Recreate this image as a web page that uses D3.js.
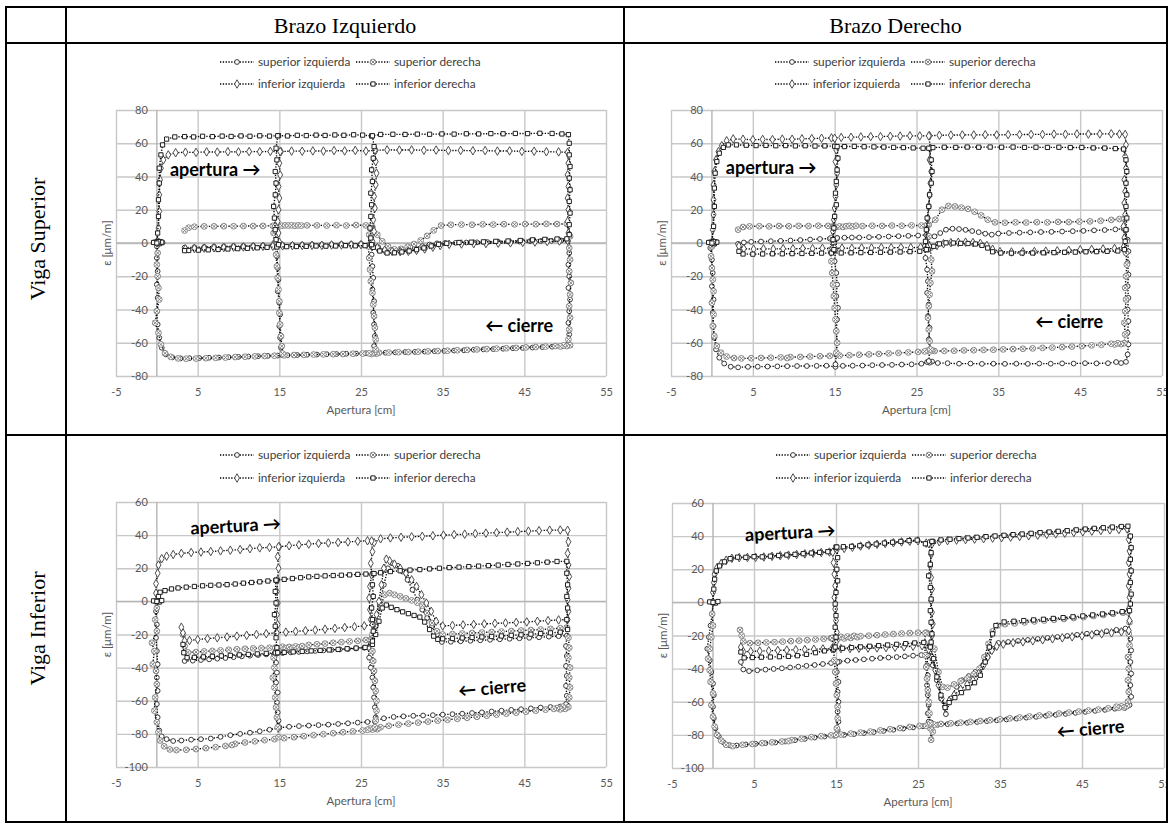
<!DOCTYPE html>
<html lang="es">
<head>
<meta charset="utf-8">
<title>Deformaciones en vigas</title>
<script src="https://cdn.jsdelivr.net/npm/d3@7/dist/d3.min.js"></script>
<style>
  body { margin: 0; background: #fff; }
  svg { display: block; }
  .cell-title { font-family: "Liberation Serif", "Times New Roman", serif; font-size: 22px; fill: #000; }
  .axis .tick text { font-family: Lato, "Open Sans", sans-serif; font-size: 11px; fill: #595959; }
  .axis-title { font-family: Lato, "Open Sans", sans-serif; font-size: 11.5px; fill: #595959; }
  .legend-text { font-family: Lato, "Open Sans", sans-serif; font-size: 11.8px; fill: #404040; }
  .note { font-family: Lato, "Open Sans", sans-serif; font-size: 18px; font-weight: bold; fill: #000; }
  .grid line { stroke: #c8c8c8; stroke-width: 1.4; }
  .grid path { display: none; }
  .zero-line { stroke: #b4b4b4; stroke-width: 1.4; }
  .series-line { fill: none; stroke: #000; stroke-width: 1.35; stroke-dasharray: 1.3 1.5; }
  .marker { fill: #fff; stroke-width: 0.95; }
  .rule { stroke: #000; stroke-width: 2; }
</style>
</head>
<body>
<svg id="figure" width="1171" height="824"></svg>
<script>
const X_TICKS = [-5, 5, 15, 25, 35, 45, 55];
const Y_TICKS_SUP = [-80, -60, -40, -20, 0, 20, 40, 60, 80];
const Y_TICKS_INF = [-100, -80, -60, -40, -20, 0, 20, 40, 60];
const SERIES_NAMES = ["superior izquierda", "superior derecha", "inferior izquierda", "inferior derecha"];
const COLUMN_TITLES = ["Brazo Izquierdo", "Brazo Derecho"];
const ROW_TITLES = ["Viga Superior", "Viga Inferior"];

// Brazo Izquierdo - Viga Superior
const izqSupSI = [[-0.3,0.5],[0.2,-0.5],[0.5,0.8],[0.1,1.5],[0.7,0.2],null,
  [3.4,-2.8],[4.6,-2.6],[5.8,-2.4],[7,-2.2],[8.2,-2.1],[9.4,-1.9],[10.6,-1.8],[11.8,-1.6],[13,-1.5],[14.2,-1.3],[15.4,-1.2],[16.6,-1.1],[17.8,-1],[19,-0.9],[20.2,-0.9],[21.4,-0.8],[22.6,-0.7],[23.8,-0.6],[25,-0.5],[26.1,-0.6],[27.1,-2.5],[28,-4.4],[28.9,-5],[29.8,-4.7],[30.7,-4],[31.6,-3],[32.5,-1.9],[33.4,-0.9],[34.3,-0.2],[35.3,0],[36.6,0.1],[37.9,0.3],[39.2,0.4],[40.5,0.5],[41.8,0.7],[43.1,0.8],[44.4,0.9],[45.7,1.1],[47,1.2],[48.3,1.3],[49.5,1.5],[50.3,1.2],
  [50.5,-6],[50.4,-13],[50.5,-20],[50.4,-27],[50.6,-34],[50.5,-41],[50.4,-48],[50.5,-55],[50.3,-61],
  [49.6,-62.2],[48.4,-62.4],[47.2,-62.6],[46,-62.9],[44.8,-63.1],[43.6,-63.3],[42.4,-63.6],[41.2,-63.8],[40,-64],[38.8,-64.2],[37.6,-64.5],[36.4,-64.7],[35.2,-64.9],[34,-65.1],[32.8,-65.3],[31.6,-65.5],[30.4,-65.6],[29.2,-65.8],[28,-66],[26.8,-66.3],[25.6,-66.3],[24.4,-66.5],[23.2,-66.6],[22,-66.8],[20.8,-66.9],[19.6,-67.1],[18.4,-67.2],[17.2,-67.4],[16,-67.5],[14.8,-67.7],[13.6,-67.9],[12.4,-68.1],[11.2,-68.3],[10,-68.5],[8.8,-68.7],[7.6,-68.9],[6.4,-69],[5.2,-69.2],[4,-69.3],[2.9,-69.4],[1.9,-68.8],[1.1,-67],[0.6,-63],[0.3,-57],[0.1,-49],[0,-41],[0.1,-33],[0,-25],[0.1,-17],[0,-9],[0,-2],null,
  [14.8,-1.3],[14.7,-8],[14.8,-15],[14.9,-22],[14.8,-29],[15,-36],[15.1,-43],[15,-50],[15.1,-57],[15.2,-63],[15.3,-67.3],null,
  [26.4,-0.6],[26.3,-7],[26.4,-14],[26.5,-21],[26.4,-28],[26.6,-35],[26.5,-42],[26.6,-49],[26.7,-56],[26.6,-62],[26.8,-66]];
const izqSupSD = [[3.4,7.5],[3.9,9.2],[4.6,9.8],[5.8,10],[7,10],[8.2,10.1],[9.4,10.1],[10.6,10.2],[11.8,10.2],[13,10.3],[14.2,10.3],[14.9,10.5],[15.3,10.4],[15.7,10.6],[16.1,10.5],[16.5,10.6],[16.9,10.4],[17.3,10.6],[17.7,10.5],[18.4,10.6],[19.6,10.6],[20.8,10.5],[22,10.7],[23.2,10.5],[24.4,10.8],[25.6,10.6],[26.4,9.5],[27,5],[27.6,1],[28.3,-2],[29.1,-3.8],[29.9,-3.5],[30.7,-2.3],[31.5,-0.6],[32.3,1.5],[33.1,4.3],[33.9,7.6],[34.8,10.5],[36,11],[37.3,11.1],[38.6,11],[39.9,11.2],[41.2,11.1],[42.5,11.3],[43.8,11.2],[45.1,11.4],[46.4,11.3],[47.7,11.5],[49,11.4],[50.2,11.5],
  [50.6,4],[50.5,-3],[50.6,-10],[50.5,-17],[50.7,-24],[50.6,-31],[50.5,-38],[50.6,-45],[50.5,-52],[50.4,-58],
  [50.6,-61.5],[50.2,-62],[49.8,-61.6],[49.4,-62.2],[48.8,-62],[47.6,-62.3],[46.4,-62.6],[45.2,-62.8],[44,-63.1],[42.8,-63.3],[41.6,-63.5],[40.4,-63.8],[39.2,-64],[38,-64.3],[36.8,-64.5],[35.6,-64.8],[34.4,-65],[33.2,-65.2],[32,-65.4],[30.8,-65.6],[29.6,-65.7],[28.4,-65.9],[27.2,-66],[26.9,-66.6],[26.6,-66.2],[26.3,-66.8],[26,-66.4],[25.2,-66.5],[24,-66.6],[22.8,-66.8],[21.6,-66.9],[20.4,-67],[19.2,-67.1],[18,-67.3],[16.8,-67.4],[15.6,-67.6],[14.4,-67.8],[13.2,-68],[12,-68.2],[10.8,-68.4],[9.6,-68.6],[8.4,-68.9],[7.2,-69.1],[6,-69.3],[4.8,-69.5],[3.6,-69.6],[2.6,-69.4],[1.7,-68.5],[1,-66.3],[0.5,-61],[0.2,-54],[-0.2,-48],[0,-41],[0.3,-34],[0.2,-27],[0.1,-20],[0,-13],[0.1,-6],[0,0],null,
  [14.5,10],[14.3,6],[14.4,0],[14.6,-7],[14.7,-14],[14.8,-21],[14.9,-28],[15,-35],[15,-42],[15.1,-49],[15.2,-56],[15.3,-62],[15.4,-66.5],null,
  [26.3,10],[26,5],[25.9,-2],[26,-9],[26.1,-16],[26.2,-23],[26.4,-30],[26.5,-37],[26.6,-44],[26.7,-51],[26.8,-58],[26.8,-64]];
const izqSupII = [[0,0],[0.2,9],[0.3,19],[0.3,29],[0.4,38],[0.5,45],[0.8,50],[1.4,53],[2.3,54.3],[3.5,54.6],[4.8,54.5],[6.1,54.8],[7.4,54.7],[8.7,54.9],[10,54.8],[11.3,55],[12.6,54.9],[13.9,55.1],[15.2,55],[16.5,55.3],[17.8,55.2],[19.1,55.4],[20.4,55.3],[21.7,55.6],[23,55.4],[24.3,55.7],[25.6,55.3],[26.8,55.8],[28.2,56],[29.7,55.9],[31.2,56],[32.7,55.8],[34.2,55.9],[35.7,55.6],[37.2,55.7],[38.7,55.5],[40.2,55.6],[41.7,55.3],[43.2,55.4],[44.7,55.1],[46.2,55.2],[47.7,54.9],[49.2,54.8],[50.3,54.5],
  [50.4,48],[50.3,41],[50.4,34],[50.3,27],[50.4,20],[50.3,13],[50.4,6],[50.3,1.5],
  [49.3,1.2],[47.8,0.9],[46.3,0.6],[44.8,0.4],[43.3,0.1],[41.8,-0.1],[40.3,-0.3],[38.8,-0.4],[37.3,-0.6],[35.8,-0.8],[34.7,-1.5],[33.8,-2.5],[32.8,-3.6],[31.8,-4.4],[30.8,-5],[29.8,-5.2],[28.8,-5],[27.9,-4.3],[27,-2.8],[26.2,-1.2],[25,-1],[23.8,-1.1],[22.6,-1.2],[21.4,-1.2],[20.2,-1.4],[19,-1.4],[17.8,-1.5],[16.6,-1.6],[15.4,-1.7],[14.2,-1.9],[13,-2],[11.8,-2.2],[10.6,-2.4],[9.4,-2.5],[8.2,-2.7],[7,-2.9],[5.8,-3.1],[4.6,-3.3],[3.5,-3.5],null,
  [15.1,55],[15,48],[15.1,41],[14.9,34],[15,27],[14.9,20],[14.8,13],[14.9,6],[15,0.5],null,
  [26.7,55.8],[26.8,49],[26.9,42],[26.8,35],[26.6,28],[26.7,21],[26.5,14],[26.6,7],[26.4,1]];
const izqSupID = [[-0.4,0.3],[0.3,-0.4],[0.6,0.5],[0.2,0.8],[0,0],[0.1,6],[0.2,16],[0.2,26],[0.3,36],[0.3,45],[0.5,53],[0.7,59],[1.2,62.5],[2.2,63.8],[3.4,64],[4.5,63.8],[5.6,64.2],[6.8,64],[8,64.3],[9.1,64.1],[10.3,64.4],[11.4,64.2],[12.6,64.5],[13.8,64.3],[14.9,64.6],[16,64.4],[17.2,64.8],[18.3,64.6],[19.5,64.9],[20.6,64.7],[21.8,65],[22.9,64.8],[24.1,65.1],[25.2,64.9],[26.3,64.4],[27.4,65.3],[28.9,65.4],[30.4,65.3],[31.9,65.5],[33.4,65.4],[34.9,65.6],[36.4,65.5],[37.9,65.7],[39.4,65.6],[40.9,65.8],[42.4,65.7],[43.9,65.9],[45.4,65.8],[46.9,66],[48.4,65.9],[49.6,65.6],[50.4,65.2],
  [50.5,60],[50.5,53],[50.6,46],[50.5,39],[50.6,32],[50.5,25],[50.6,18],[50.5,11],[50.5,5],
  [50.2,2.5],[49,2.4],[47.5,2.2],[46,1.9],[44.5,1.5],[43,1.2],[41.5,1],[40,0.7],[38.5,0.5],[37,0.3],[35.5,-0.2],[34.5,-0.8],[33.6,-1.8],[32.7,-3],[31.8,-4],[30.9,-4.8],[30,-5.4],[29.1,-5.9],[28.2,-6],[27.3,-4.8],[26.5,-2.6],[25.5,-1.6],[24.3,-1.7],[23.1,-1.6],[21.9,-1.8],[20.7,-1.9],[19.5,-1.8],[18.3,-2],[17.1,-2.1],[15.9,-2.2],[14.7,-2.4],[13.5,-2.6],[12.3,-2.9],[11.1,-3.2],[9.9,-3.4],[8.7,-3.6],[7.5,-3.9],[6.3,-4.1],[5.1,-4.3],[3.9,-4.5],[3.4,-4.6],null,
  [14.8,64.5],[14.6,57],[14.7,50],[14.5,43],[14.6,36],[14.5,29],[14.3,22],[14.4,15],[14.5,8],[14.6,2],[14.9,-1],null,
  [26.4,64.5],[26.6,58],[26.5,51],[26.3,44],[26.4,37],[26.2,30],[26.3,23],[26.2,16],[26.1,9],[26.2,3],[26.3,-1]];

// Brazo Derecho - Viga Superior
const derSupSI = [[-0.3,0.4],[0.3,-0.6],[0.5,0.7],[0.1,1.4],null,
  [3.2,-0.5],[3.9,0.3],[4.8,0.7],[6,0.9],[7.2,1.1],[8.4,1.3],[9.6,1.5],[10.8,1.8],[12,2.1],[13.2,2.4],[14.4,2.7],[15.3,3],[16.2,3.2],[17.1,3.3],[18,3.3],[19.2,3.5],[20.4,3.7],[21.6,3.9],[22.8,4.1],[24,4.3],[25.2,4.5],[26.3,5],[27.2,4],[27.9,6],[28.6,8],[29.4,8.6],[30.2,8.4],[31,7.9],[31.8,7.2],[32.6,6.5],[33.4,5.6],[34.2,5],[35,5.7],[36.3,6],[37.6,6.2],[38.9,6.4],[40.2,6.6],[41.5,6.7],[42.8,6.9],[44.1,7.1],[45.4,7.3],[46.7,7.6],[48,7.8],[49.3,8.2],[50.3,8.6],
  [50.8,2],[50.9,-5],[50.8,-12],[50.9,-19],[50.8,-26],[50.9,-33],[50.8,-40],[50.9,-47],[50.8,-54],[50.9,-61],[50.8,-67],[50.6,-71.5],
  [50,-72.2],[49.4,-71.6],[48.4,-72.3],[47,-72.4],[45.6,-72.3],[44.2,-72.5],[42.8,-72.4],[41.4,-72.6],[40,-72.5],[38.6,-72.7],[37.2,-72.6],[35.8,-72.7],[34.4,-72.6],[33,-72.7],[31.6,-72.5],[30.2,-72.6],[28.8,-72.3],[27.6,-72.2],[26.9,-71.3],[26.6,-72],[26.3,-71.6],[25.6,-72.6],[24.4,-73],[23.2,-73.1],[22,-73.3],[20.8,-73.4],[19.6,-73.5],[18.4,-73.7],[17.2,-73.8],[16,-73.9],[15.1,-74.5],[14,-73.8],[12.8,-73.9],[11.6,-74],[10.4,-74],[9.2,-74.1],[8,-74.2],[6.8,-74.3],[5.6,-74.4],[4.4,-74.5],[3.2,-74.8],[2.3,-74.4],[1.5,-72.5],[0.9,-69],[0.5,-64],[0.3,-57],[0.2,-50],[0.1,-42],[0.2,-34],[0,-26],[0.1,-18],[0,-10],[-0.2,-3],[0,0],null,
  [15.3,3],[15.1,-4],[15,-11],[15.2,-18],[15.3,-25],[15.2,-32],[15.4,-39],[15.3,-46],[15.2,-53],[15.3,-60],[15.2,-67],[15.1,-73],null,
  [26.2,4.8],[26,-2],[26.1,-9],[26.3,-16],[26.4,-23],[26.3,-30],[26.5,-37],[26.4,-44],[26.6,-51],[26.5,-58],[26.6,-65],[26.5,-71]];
const derSupSD = [[3.2,8],[3.8,9.6],[4.6,10],[5.8,10.1],[7,10],[8.2,10.2],[9.4,10.1],[10.6,10.3],[11.8,10.2],[13,10.4],[14.2,10.3],[14.8,10],[15.2,9.6],[15.6,10],[16,9.7],[16.4,10.1],[16.8,10.3],[17.2,9.9],[17.6,10.4],[18.4,10.2],[19.6,10.4],[20.8,10.3],[22,10.5],[23.2,10.4],[24.4,10.6],[25.6,10.5],[26.5,11],[27.3,14],[28.1,20],[28.9,22.3],[29.7,22],[30.5,21.3],[31.3,20.5],[32.1,18.8],[32.9,16.6],[33.7,14],[34.6,12.4],[35.8,12.2],[37.1,12.4],[38.4,12.3],[39.7,12.5],[41,12.4],[42.3,12.7],[43.6,12.6],[44.9,12.9],[46.2,13],[47.5,13.4],[48.8,13.9],[49.8,14.4],[50.4,14.6],
  [50.6,8],[50.7,1],[50.6,-6],[50.7,-13],[50.6,-20],[50.5,-27],[50.6,-34],[50.5,-41],[50.4,-48],[50.5,-55],
  [50.4,-60.2],[50,-60.8],[49.6,-60.3],[49.2,-61],[48.8,-60.6],[47.6,-61.2],[46.4,-61.6],[45.2,-62],[44,-62.3],[42.8,-62.6],[41.6,-62.9],[40.4,-63.1],[39.2,-63.4],[38,-63.6],[36.8,-63.8],[35.6,-64],[34.4,-64.2],[33.2,-64.3],[32,-64.5],[30.8,-64.6],[29.6,-64.8],[28.4,-64.9],[27.2,-65],[26.9,-64.6],[26.6,-65.3],[26.3,-64.8],[26,-65.2],[25.2,-65.5],[24,-65.8],[22.8,-66.1],[21.6,-66.4],[20.4,-66.7],[19.2,-67],[18,-67.2],[16.8,-67.5],[15.6,-67.7],[14.4,-67.9],[13.2,-68.1],[12,-68.3],[10.8,-68.5],[9.6,-68.6],[9.2,-69.2],[8.4,-68.8],[7.2,-69],[6,-69.1],[4.8,-69.3],[3.6,-69.4],[2.7,-69.2],[1.8,-68.3],[1.1,-66],[0.6,-62],[0.3,-56],[0.1,-50],[0.2,-43],[0,-36],[0.2,-29],[0.1,-22],[0,-15],[-0.1,-8],[0,-2],null,
  [14.8,9.5],[14.6,3],[14.5,-4],[14.6,-11],[14.7,-18],[14.8,-25],[14.9,-32],[15,-39],[15.1,-46],[15.2,-53],[15.3,-60],[15.2,-66],null,
  [26.3,11],[26.5,4],[26.7,-3],[26.8,-10],[26.9,-17],[26.7,-24],[26.6,-31],[26.5,-38],[26.4,-45],[26.5,-52],[26.6,-59],[26.7,-64]];
const derSupII = [[0,0],[0.1,8],[0.2,17],[0.2,26],[0.2,35],[0.3,43],[0.5,50],[0.8,55],[1.2,58.5],[1.8,61.5],[2.6,62.6],[3.8,62.4],[5,62.1],[6.2,62.3],[7.4,62.2],[8.6,62.5],[9.8,62.4],[11,62.7],[12.2,62.8],[13.4,63],[14.6,63.2],[15.8,63.5],[17,63.6],[18.2,63.8],[19.4,64],[20.6,64],[21.8,64.2],[23,64.3],[24.2,64.5],[25.4,64.4],[26.6,64.5],[27.8,64.8],[29.2,64.9],[30.6,65],[32,65],[33.4,65.1],[34.8,65],[36.2,65.2],[37.6,65.2],[39,65.3],[40.4,65.3],[41.8,65.5],[43.2,65.4],[44.6,65.6],[46,65.5],[47.4,65.6],[48.8,65.7],[49.8,65.5],[50.5,65.3],
  [50.6,59],[50.5,52],[50.6,45],[50.4,38],[50.5,31],[50.4,24],[50.5,17],[50.3,10],[50.4,3],[50.3,-2.5],
  [49.2,-3.3],[47.8,-3.6],[46.4,-3.9],[45,-4.1],[43.6,-4.4],[42.2,-4.7],[40.8,-4.9],[39.4,-5.1],[38,-5.3],[36.6,-5.4],[35.2,-5.2],[34.3,-3.8],[33.6,-1.5],[32.8,-0.2],[31.9,0.3],[31,0.5],[30.1,0.4],[29.2,0.2],[28.3,-0.4],[27.5,-1.5],[26.6,-2.2],[25.5,-2.6],[24.3,-2.8],[23.1,-2.7],[21.9,-2.9],[20.7,-2.8],[19.5,-3],[18.3,-3],[17.1,-3.2],[15.9,-3.1],[14.7,-3.3],[13.5,-3.2],[12.3,-3.4],[11.1,-3.3],[9.9,-3.5],[8.7,-3.4],[7.5,-3.6],[6.3,-3.5],[5.1,-3.7],[3.9,-3.4],[3.3,-1.8],null,
  [15,63],[15.2,56],[15.1,49],[15.3,42],[15.2,35],[15.1,28],[15,21],[14.9,14],[14.8,7],[14.9,0],[15,-3],null,
  [26.5,64.4],[26.7,57],[26.6,50],[26.8,43],[26.7,36],[26.6,29],[26.5,22],[26.4,15],[26.3,8],[26.2,1],[26.3,-2.5]];
const derSupID = [[-0.4,0.3],[0.3,-0.4],[0.6,0.5],[0.2,0.8],[0,0],[0.2,10],[0.3,22],[0.3,33],[0.4,42],[0.6,49],[0.9,54],[1.4,57.5],[2,59],[3,59],[4.2,58.8],[5.4,58.6],[6.6,58.7],[7.8,58.5],[9,58.6],[10.2,58.4],[11.4,58.5],[12.6,58.3],[13.8,58.4],[15,58.2],[16.2,58],[17.4,58.1],[18.6,57.9],[19.8,57.8],[21,57.7],[22.2,57.5],[23.4,57.4],[24.6,57.2],[25.8,57],[27,57.4],[28.4,57.6],[29.8,57.5],[31.2,57.7],[32.6,57.6],[34,57.7],[35.4,57.6],[36.8,57.7],[38.2,57.5],[39.6,57.6],[41,57.5],[42.4,57.6],[43.8,57.4],[45.2,57.5],[46.6,57.2],[48,57.1],[49.3,56.8],[50.3,56.5],
  [50.6,50],[50.7,43],[50.6,36],[50.7,29],[50.6,22],[50.7,15],[50.6,8],[50.5,1],[50.4,-4],
  [49.6,-4.8],[48.3,-5],[47,-5.2],[45.7,-5.3],[44.4,-5.5],[43.1,-5.6],[41.8,-5.8],[40.5,-5.9],[39.2,-6],[37.9,-6],[36.6,-6.1],[35.3,-6],[34.3,-5.3],[33.7,-3],[33,-1.4],[32.2,-0.6],[31.3,-0.3],[30.4,-0.2],[29.5,0],[28.6,0.1],[27.8,-0.5],[27.1,-2],[26.4,-4],[25.4,-5],[24.2,-5.2],[23,-5.4],[21.8,-5.5],[20.6,-5.6],[19.4,-5.7],[18.2,-5.8],[17,-5.9],[15.8,-6],[14.6,-6],[13.4,-6.1],[12.2,-6.2],[11,-6.3],[9.8,-6.4],[8.6,-6.5],[7.4,-6.5],[6.2,-6.6],[5,-6.7],[3.8,-6.6],[3.3,-5],null,
  [15.3,58],[15.4,51],[15.3,44],[15.2,37],[15.1,30],[15.2,23],[15,16],[14.9,9],[14.8,2],[14.9,-4],null,
  [26.5,57],[26.8,50],[26.9,43],[26.8,36],[26.6,29],[26.5,22],[26.3,15],[26.2,8],[26.1,1],[26.2,-4]];

// Brazo Izquierdo - Viga Inferior
const izqInfSI = [[3.4,-36],[4.4,-35.8],[5.4,-35.4],[6.4,-35],[7.4,-34.6],[8.4,-34.2],[9.4,-33.7],[10.4,-33.2],[11.4,-32.8],[12.4,-32.4],[13.4,-32],[14.4,-31.6],[15.4,-31.2],[16.4,-30.8],[17.4,-30.5],[18.4,-30.2],[19.4,-29.9],[20.4,-29.6],[21.4,-29.3],[22.4,-29],[23.4,-28.7],[24.4,-28.4],[25.4,-28],[26.2,-25],[26.8,-15],[27.3,-2],[27.8,10],[28.3,20],[28.9,23],[29.5,21.5],[30.1,18],[30.7,13],[31.3,7],[31.9,1],[32.5,-5],[33.1,-10],[33.7,-15],[34.3,-20],[34.9,-24.5],[36,-24.4],[37.2,-24.1],[38.4,-23.8],[39.6,-23.5],[40.8,-23.2],[42,-22.9],[43.2,-22.6],[44.4,-22.3],[45.6,-22],[46.8,-21.7],[48,-21.3],[49.2,-21],[50.2,-20.7],
  [50.1,-27],[50.2,-33],[50.1,-39],[50.2,-45],[50.1,-51],[50.2,-57],[50.1,-62],
  [49.4,-63.5],[48.2,-63.8],[47,-64.1],[45.8,-64.6],[44.6,-65.1],[43.4,-65.5],[42.2,-66],[41,-66.5],[39.8,-67],[38.6,-67.4],[37.4,-67.8],[36.2,-68.1],[35,-68.4],[33.8,-68.7],[32.6,-68.9],[31.4,-69.1],[30.2,-69.4],[29,-69.8],[27.8,-70.6],[26.8,-72],[25.8,-72.8],[24.6,-73.2],[23.4,-73.6],[22.2,-74],[21,-74.4],[19.8,-74.7],[18.6,-75],[17.4,-75.3],[16.2,-75.7],[15,-76.3],[13.8,-77.5],[12.6,-78.4],[11.4,-79.3],[10.2,-80],[9,-80.8],[7.8,-81.8],[6.6,-82.8],[5.4,-83.2],[4.2,-83.5],[3,-84],[2,-84.3],[1.2,-83.2],[0.6,-81.5],[0.3,-78],[0.1,-70],[0,-62],[0.1,-54],[0,-46],[0.1,-38],[0,-30],[-0.1,-22],[0,-14],[-0.1,-6],[0,0],null,
  [14.7,-31.5],[14.6,-37],[14.7,-43],[14.6,-49],[14.8,-55],[14.7,-61],[14.8,-67],[14.9,-72],[15,-76],null,
  [25.9,-28],[26,-34],[26.2,-40],[26.4,-46],[26.5,-52],[26.6,-58],[26.7,-64],[26.8,-70],[26.7,-72.5]];
const izqInfSD = [[3.2,-20],[3.4,-27],[3.8,-30.8],[4.8,-30.6],[5.8,-30.2],[6.8,-29.9],[7.8,-29.6],[8.8,-29.2],[9.8,-28.9],[10.8,-28.6],[11.8,-28.4],[12.8,-28.2],[13.8,-28],[14.6,-27.9],[15,-28.6],[15.4,-27.4],[15.8,-28.3],[16.2,-27.5],[16.6,-28.1],[17,-27.2],[17.4,-27.8],[17.8,-27],[18.6,-26.3],[19.6,-25.9],[20.6,-25.5],[21.6,-25],[22.6,-24.6],[23.6,-24.2],[24.6,-23.8],[25.6,-23.3],[26.4,-20],[26.9,-12],[27.4,-3],[27.9,4],[28.5,5],[29.1,4],[29.8,3],[30.5,1.8],[31.2,0.6],[31.9,-0.8],[32.5,-2.5],[33.1,-7],[33.7,-13],[34.3,-18],[35,-20],[36.2,-19.7],[37.4,-19.4],[38.6,-19.1],[39.8,-18.8],[41,-18.5],[42.2,-18.2],[43.4,-17.9],[44.6,-17.6],[45.8,-17.3],[47,-17],[48.2,-16.6],[49.4,-16.2],[50.2,-15.8],
  [50.4,-22],[50.5,-28],[50.4,-34],[50.6,-40],[50.5,-46],[50.6,-52],[50.5,-58],
  [50.4,-63.8],[50,-64.9],[49.7,-63.6],[49.4,-65.2],[49,-64.4],[48.6,-64.9],[47.6,-65.4],[46.4,-66],[45.2,-66.6],[44,-67.2],[42.8,-67.8],[41.6,-68.4],[40.4,-69],[39.2,-69.7],[38,-70.3],[36.8,-70.9],[35.6,-71.5],[34.4,-72],[33.2,-72.6],[32,-73.2],[30.8,-73.8],[29.6,-74.4],[28.4,-75.1],[27.4,-76],[27,-77.2],[26.7,-76.6],[26.4,-77.4],[26.1,-76.8],[25.8,-77.5],[25.2,-78],[24,-78.5],[22.8,-79],[21.6,-79.6],[20.4,-80.2],[19.2,-80.8],[18,-81.4],[16.8,-82],[15.6,-82.6],[14.4,-83.2],[13.2,-83.8],[12,-84.5],[10.8,-85.2],[9.6,-86],[9.2,-86.8],[8.4,-87.3],[7.2,-88],[6,-88.6],[4.8,-89.2],[3.6,-89.6],[2.4,-89.8],[1.6,-89.4],[0.9,-87.5],[0.4,-84],[0.2,-79],[0,-73],[-0.3,-66],[-0.2,-58],[0,-50],[-0.1,-42],[-0.5,-38],[-0.3,-30],[-0.6,-25],[0,-18],[-0.2,-11],[0,-4],[-0.1,0],null,
  [14.5,-28],[14.3,-34],[14.4,-40],[14.2,-46],[14.4,-52],[14.5,-58],[14.6,-64],[14.7,-70],[14.8,-76],[14.9,-82],null,
  [26.2,-23.5],[26.4,-30],[26.5,-36],[26.6,-42],[26.7,-48],[26.8,-54],[26.9,-60],[26.9,-66],[26.8,-72],[26.7,-76]];
const izqInfII = [[0,0],[-0.1,5],[-0.1,10.7],[0.1,17],[0.2,22],[0.6,25.8],[1.2,27.3],[2,28.3],[3,29],[4.2,29.5],[5.4,29.8],[6.6,30.1],[7.8,30.5],[9,30.9],[10.2,31.3],[11.4,31.8],[12.6,32.3],[13.8,32.6],[15,33],[16.2,33.6],[17.4,34.1],[18.6,34.6],[19.8,35],[21,35.3],[22.2,35.6],[23.4,35.9],[24.6,36.3],[25.8,36.6],[26.6,35.5],[27.4,37.8],[28.6,38.3],[29.9,38.7],[31.2,39],[32.5,39.3],[33.8,39.6],[35.1,40],[36.4,40.3],[37.7,40.6],[39,40.9],[40.3,41.2],[41.6,41.5],[42.9,41.8],[44.2,42.1],[45.5,42.4],[46.8,42.7],[48.1,43],[49.4,43.1],[50.3,42.9],
  [50.4,36],[50.3,29],[50.4,22],[50.5,15],[50.4,8],[50.3,1],[50.4,-6],[50.3,-11],
  [49.2,-11.2],[47.9,-11.6],[46.6,-12],[45.3,-12.4],[44,-12.7],[42.7,-13],[41.4,-13.3],[40.1,-13.6],[38.8,-13.9],[37.5,-14.2],[36.2,-14.5],[35,-14.8],[34.2,-12],[33.6,-6],[33,-1],[32.4,4],[31.8,9],[31.2,13],[30.5,17],[29.8,20],[29.1,22.5],[28.5,24.5],[28.1,25.5],[27.8,20],[27.5,10],[27.2,0],[26.9,-8],[26.5,-14],[25.4,-14.8],[24.2,-15.3],[23,-15.8],[21.8,-16.3],[20.6,-16.8],[19.4,-17.3],[18.2,-17.7],[17,-18.1],[15.8,-18.6],[14.6,-19],[13.4,-19.5],[12.2,-20],[11,-20.5],[9.8,-21],[8.6,-21.5],[7.4,-22],[6.2,-22.5],[5,-23],[4,-23.6],[3.4,-23.8],[3.2,-19],[3,-15.6],null,
  [14.9,33],[14.8,27],[14.9,20],[14.8,13],[14.7,6],[14.8,-1],[14.7,-8],[14.8,-14],[14.7,-19],null,
  [26.3,36.5],[26.4,30],[26.2,23],[26.3,16],[26.1,9],[26,2],[26.1,-5],[26.2,-11],[26.4,-14]];
const izqInfID = [[-0.4,0.3],[0.3,-0.4],[0.6,0.5],[0,0],[0.2,3],[0.4,5.5],[1,6.5],[1.8,7.5],[2.6,8.1],[3.6,8.6],[4.6,9],[5.6,9.4],[6.6,9.7],[7.6,9.9],[8.6,10.1],[9.6,10.5],[10.6,11],[11.6,11.4],[12.6,11.8],[13.6,12.3],[14.6,12.8],[15.6,13.3],[16.6,13.8],[17.6,14.3],[18.6,14.8],[19.6,15.1],[20.6,15.4],[21.6,15.6],[22.6,15.8],[23.6,16],[24.6,16.3],[25.6,16.5],[26.5,16.8],[27.4,17.3],[28.6,18],[29.8,18.5],[31,18.9],[32.2,19.2],[33.4,19.6],[34.6,20],[35.8,20.4],[37,20.7],[38.2,21],[39.4,21.3],[40.6,21.6],[41.8,21.9],[43,22.3],[44.2,22.6],[45.4,22.9],[46.6,23.3],[47.8,23.7],[49,24.1],[50.2,24.2],
  [50.2,17],[50.3,10],[50.2,3],[50.3,-4],[50.2,-11],[50.3,-17],
  [49.4,-18.6],[48.2,-19],[47,-19.4],[45.8,-19.8],[44.6,-20.2],[43.4,-20.5],[42.2,-20.9],[41,-21.2],[39.8,-21.5],[38.6,-21.8],[37.4,-22.1],[36.2,-22.4],[35,-22.6],[34.4,-22.9],[33.9,-21],[33.4,-17],[32.8,-12.5],[32.2,-9.5],[31.5,-8.5],[30.8,-7.4],[30.1,-6.3],[29.4,-5],[28.7,-3.6],[28.1,-2.2],[27.6,-4],[27.2,-12],[26.8,-20],[26.4,-26],[25.5,-27.8],[24.4,-28.2],[23.3,-28.6],[22.2,-29],[21.1,-29.3],[20,-29.6],[18.9,-29.9],[17.8,-30.2],[16.7,-30.5],[15.6,-30.8],[14.5,-31.1],[13.4,-31.4],[12.3,-31.7],[11.2,-32],[10.1,-32.3],[9,-32.6],[7.9,-32.9],[6.8,-33.2],[5.7,-33.5],[4.6,-33.8],[3.7,-34],[3.3,-31],[3.2,-26],null,
  [14.6,12.8],[14.5,6],[14.6,-1],[14.4,-8],[14.5,-15],[14.6,-22],[14.7,-28],[14.8,-31],null,
  [26.6,16.8],[26.4,10],[26.5,3],[26.3,-4],[26.4,-11],[26.5,-18],[26.4,-24]];

// Brazo Derecho - Viga Inferior
const derInfSI = [[3.4,-36],[3.7,-40.5],[4.4,-41.5],[5.4,-41],[6.4,-40.6],[7.4,-40.2],[8.4,-39.8],[9.4,-39.3],[10.4,-38.8],[11.4,-38.3],[12.4,-37.8],[13.4,-37.2],[14.4,-36.6],[15.4,-35.8],[16.4,-35.2],[17.4,-34.8],[18.4,-34.4],[19.4,-34],[20.4,-33.6],[21.4,-33.3],[22.4,-33],[23.4,-32.6],[24.4,-32.2],[25.4,-31.8],[26.2,-31.5],[26.8,-38],[27.3,-47],[27.8,-58],[28.4,-67.5],[29,-58],[29.7,-51],[30.4,-47],[31.2,-44.5],[32,-42],[32.8,-38.5],[33.5,-33],[34.1,-28],[34.8,-24.5],[36,-23.9],[37.2,-23.3],[38.4,-22.7],[39.6,-22.1],[40.8,-21.5],[42,-20.9],[43.2,-20.3],[44.4,-19.6],[45.6,-18.9],[46.8,-18.2],[48,-17.4],[49.2,-16.6],[50.3,-15.8],
  [50.9,-22],[51,-29],[50.9,-36],[51,-43],[50.9,-50],[51,-57],[50.8,-62],
  [50.2,-63.8],[49,-64.2],[47.8,-64.9],[46.6,-65.5],[45.4,-66.1],[44.2,-66.7],[43,-67.3],[41.8,-67.9],[40.6,-68.5],[39.4,-69.1],[38.2,-69.6],[37,-70.2],[35.8,-70.7],[34.6,-71.2],[33.4,-71.7],[32.2,-72.2],[31,-72.7],[29.8,-73.1],[28.6,-73.5],[27.4,-73.9],[26.6,-72.5],[25.6,-74.8],[24.4,-75.5],[23.2,-76.2],[22,-76.9],[20.8,-77.6],[19.6,-78.3],[18.4,-78.9],[17.2,-79.5],[16,-80],[14.8,-80.5],[13.6,-81],[12.4,-81.6],[11.2,-82.4],[10,-83.2],[8.8,-84],[7.6,-84.6],[6.4,-85],[5.2,-85.4],[4,-85.8],[2.9,-86.4],[2,-86.2],[1.3,-84.6],[0.7,-81],[0.3,-76],[0.1,-70],[0,-63],[0.1,-56],[0,-49],[-0.2,-42],[-0.4,-35],[-0.7,-28],[-0.5,-21],[-0.3,-14],[-0.1,-7],[0,0],null,
  [15.2,-36],[15.1,-42],[15.3,-48],[15.2,-54],[15.3,-60],[15.2,-66],[15.3,-72],[15.2,-77],[15.1,-80],null,
  [26.2,-32],[26.1,-38],[26.2,-44],[26.1,-50],[26.2,-56],[26.3,-62],[26.2,-67],[26.3,-72]];
const derInfSD = [[3.3,-16.6],[3.5,-20],[3.7,-23.6],[4.5,-24.6],[5.5,-24.4],[6.5,-24.2],[7.5,-24],[8.5,-23.7],[9.5,-23.4],[10.5,-23.1],[11.5,-22.8],[12.5,-22.4],[13.5,-22],[14.4,-21.6],[14.8,-21],[15.2,-22],[15.6,-20.8],[16,-21.8],[16.4,-20.6],[16.8,-21.5],[17.2,-20.2],[17.6,-21],[18,-20.4],[19,-20.1],[20,-19.8],[21,-19.4],[22,-19.1],[23,-18.8],[24,-18.5],[25,-18.3],[26,-18.2],[26.5,-19],[27,-28],[27.5,-42],[28,-51],[28.6,-51.5],[29.4,-49.5],[30.2,-47.5],[31,-46],[31.8,-43.5],[32.5,-40],[33.1,-33],[33.6,-25],[34.1,-17.5],[34.7,-14],[35.6,-13.2],[36.8,-12.7],[38,-12.1],[39.2,-11.5],[40.4,-11],[41.6,-10.5],[42.8,-10],[44,-9.4],[45.2,-8.9],[46.4,-8.3],[47.6,-7.6],[48.8,-6.9],[50,-6.2],[50.6,-6],
  [50.8,-12],[50.7,-19],[50.8,-26],[50.6,-33],[50.7,-40],[50.6,-47],[50.7,-54],[50.6,-60],
  [50.5,-62.6],[50.1,-63.4],[49.8,-62.8],[49.5,-63.6],[49.2,-63],[48.2,-64],[47,-64.7],[45.8,-65.3],[44.6,-65.9],[43.4,-66.5],[42.2,-67.1],[41,-67.7],[39.8,-68.3],[38.6,-68.9],[37.4,-69.5],[36.2,-70],[35,-70.6],[33.8,-71.1],[32.6,-71.6],[31.4,-72.1],[30.2,-72.6],[29,-73],[27.8,-73.4],[27,-73.8],[26.8,-78],[26.6,-83],[26.5,-76],[26.3,-74],[26,-74.5],[25.2,-74.6],[24,-75.2],[22.8,-75.9],[21.6,-76.6],[20.4,-77.3],[19.2,-78],[18,-78.6],[16.8,-79.2],[15.6,-79.8],[14.4,-80.3],[13.2,-80.8],[12,-81.4],[10.8,-82.3],[9.6,-83.2],[9.2,-83.8],[8.4,-84],[7.2,-84.5],[6,-85],[4.8,-85.5],[3.6,-86],[2.4,-86.8],[1.6,-86],[1,-83.5],[0.5,-80],[0.2,-75],[0,-69],[-0.2,-62],[0,-55],[-0.3,-48],[-0.4,-41],[-0.6,-34],[-0.4,-28],[-0.2,-21],[0,-14],[-0.1,-7],[0,0],null,
  [14.5,-21.5],[14.7,-28],[14.8,-35],[14.9,-42],[15,-49],[15.1,-56],[15.2,-63],[15.2,-70],[15.1,-76],[15,-80],null,
  [25.9,-18.5],[25.8,-25],[25.9,-32],[26,-39],[26.1,-46],[26.2,-53],[26.3,-60],[26.4,-67],[26.5,-73]];
const derInfII = [[0,0],[0,6],[0.1,12],[0.2,17],[0.5,21],[1,23.5],[1.6,25.4],[2.3,26.6],[3.2,27],[4.2,27.1],[5.2,27.2],[6.2,27.4],[7.2,27.8],[8.2,28.2],[9.2,28.5],[10.2,28.9],[11.2,29.3],[12.2,29.7],[13.2,30.1],[14.2,30.4],[15.1,31.8],[16,32.6],[17,33.3],[18,34],[19,34.6],[20,35.1],[21,35.6],[22,36],[23,36.5],[24,36.9],[25,37.2],[26,35.8],[26.7,35.2],[27.6,36.6],[28.6,37.3],[29.7,37.6],[30.8,37.9],[31.9,38.2],[33,38.5],[34.1,38.8],[35.2,39.1],[36.3,39.4],[37.4,39.8],[38.5,40.2],[39.6,40.6],[40.7,41],[41.8,41.4],[42.9,41.8],[44,42.2],[45.1,42.6],[46.2,43],[47.3,43.4],[48.4,43.8],[49.5,44],[50.5,44.4],
  [50.7,38],[50.8,31],[50.7,24],[50.8,17],[50.7,10],[50.8,3],[50.7,-4],[50.8,-11],[50.7,-17],
  [49.8,-17.8],[48.6,-18.4],[47.4,-19],[46.2,-19.6],[45,-20.2],[43.8,-20.8],[42.6,-21.4],[41.4,-22],[40.2,-22.6],[39,-23.2],[37.8,-23.8],[36.6,-24.4],[35.4,-25.2],[34.6,-26.5],[34,-29],[33.5,-33],[33,-38],[32.4,-43],[31.7,-47],[31,-49.5],[30.2,-52.5],[29.4,-56],[28.8,-59.5],[28.3,-63],[27.9,-58],[27.5,-50],[27.1,-41],[26.7,-33],[26.3,-28.5],[25.5,-26.2],[24.4,-26.5],[23.3,-26.8],[22.2,-27.1],[21.1,-27.3],[20,-27.5],[18.9,-27.6],[17.8,-27.7],[16.7,-27.8],[15.6,-27.9],[14.5,-28],[13.4,-28.1],[12.3,-28.3],[11.2,-28.5],[10.1,-28.6],[9,-28.8],[7.9,-29],[6.8,-29.2],[5.7,-29.4],[4.6,-29.6],[3.7,-29.8],[3.4,-27],null,
  [14.6,30.3],[14.7,24],[14.8,17],[14.9,10],[14.8,3],[14.9,-4],[15,-11],[15.1,-18],[15,-24],[14.8,-28],null,
  [26.3,35.5],[26.6,29],[26.5,22],[26.6,15],[26.7,8],[26.6,1],[26.7,-6],[26.8,-13],[26.7,-20],[26.5,-26]];
const derInfID = [[-0.4,0.3],[0.3,-0.4],[0.6,0.5],[0,0],[0.1,8],[0.2,14],[0.4,19],[0.8,22],[1.4,24.5],[2.1,26.4],[3,27.3],[4,27.2],[5,27.6],[6,27.5],[7,27.9],[8,28.3],[9,28.6],[10,29],[11,29.4],[12,29.8],[13,30.2],[14,30.6],[15,33.4],[15.9,33.6],[16.9,33.8],[17.9,34.2],[18.9,34.7],[19.9,35.2],[20.9,35.8],[21.9,36.3],[22.9,36.8],[23.9,37.3],[24.9,37.6],[25.9,35.4],[26.8,36.8],[27.8,37.7],[28.9,38.1],[30,38.5],[31.1,38.9],[32.2,39.3],[33.3,39.7],[34.4,40.1],[35.5,40.5],[36.6,40.9],[37.7,41.3],[38.8,41.7],[39.9,42.1],[41,42.5],[42.1,42.9],[43.2,43.3],[44.3,43.8],[45.4,44.3],[46.5,44.7],[47.6,45.1],[48.7,45.5],[49.8,45.8],[50.6,46],
  [50.9,40],[51,33],[50.9,26],[51,19],[50.9,12],[51,5],[50.9,-1],[50.8,-5],
  [49.9,-5.6],[48.7,-6.3],[47.5,-7],[46.3,-7.6],[45.1,-8.2],[43.9,-8.7],[42.7,-9.2],[41.5,-9.7],[40.3,-10.2],[39.1,-10.6],[37.9,-11],[36.7,-11.4],[35.5,-11.8],[34.5,-14],[34.1,-19],[33.7,-27],[33.2,-36],[32.6,-44],[31.9,-48.5],[31.1,-51.5],[30.3,-54.5],[29.5,-57.5],[28.8,-60.5],[28.3,-63.5],[27.8,-56],[27.3,-45],[26.9,-34],[26.5,-27],[25.7,-24.2],[24.6,-24.5],[23.5,-24.9],[22.4,-25.3],[21.3,-25.7],[20.2,-26.1],[19.1,-26.5],[18,-26.9],[16.9,-27.3],[15.8,-27.7],[14.7,-28.2],[13.6,-29.3],[12.5,-30.4],[11.4,-31.4],[10.3,-32.2],[9.2,-32.6],[8.1,-32.8],[7,-33],[5.9,-33.1],[4.8,-33.3],[3.8,-33.5],[3.4,-30],null,
  [15.1,33.4],[15.2,27],[15.1,20],[15.2,13],[15,6],[14.9,-1],[15,-8],[14.9,-15],[15,-21],[14.9,-27],null,
  [26.7,36.8],[26.6,30],[26.5,23],[26.3,16],[26.5,9],[26.6,2],[26.5,-5],[26.6,-12],[26.7,-19],[26.6,-24]];

const svg = d3.select("#figure");

const markers = [
  { d: d3.symbol(d3.symbolCircle, 18)(), stroke: "#2e2e2e" },
  { d: d3.symbol(d3.symbolCircle, 26)() + "M-2,-2L2,2M-2,2L2,-2", stroke: "#7e7e7e" },
  { d: d3.symbol(d3.symbolDiamond, 21)(), stroke: "#444" },
  { d: d3.symbol(d3.symbolSquare, 18)(), stroke: "#141414" }
];

const panels = [
  {
    id: "izq-sup",
    series: [izqSupSI, izqSupSD, izqSupII, izqSupID],
    yDomain: [-80, 80], yTicks: Y_TICKS_SUP,
    cell: [67, 44, 623, 434], plot: [116, 110, 606, 376], legendY: [62, 84],
    notes: [
      { text: "apertura →", x: 1.6, y: 44, angle: 0 },
      { text: "← cierre", x: 40.2, y: -50, angle: 0 }
    ]
  },
  {
    id: "der-sup",
    series: [derSupSI, derSupSD, derSupII, derSupID],
    yDomain: [-80, 80], yTicks: Y_TICKS_SUP,
    cell: [625, 44, 1166, 434], plot: [671, 110, 1162, 376], legendY: [62, 84],
    notes: [
      { text: "apertura →", x: 1.7, y: 45.3, angle: 0 },
      { text: "← cierre", x: 39.5, y: -47.3, angle: 0 }
    ]
  },
  {
    id: "izq-inf",
    series: [izqInfSI, izqInfSD, izqInfII, izqInfID],
    yDomain: [-100, 60], yTicks: Y_TICKS_INF,
    cell: [67, 436, 623, 821], plot: [116, 502, 606, 767], legendY: [455, 478],
    notes: [
      { text: "apertura →", x: 4.1, y: 44.2, angle: -3 },
      { text: "← cierre", x: 36.9, y: -54, angle: -5 }
    ]
  },
  {
    id: "der-inf",
    series: [derInfSI, derInfSD, derInfII, derInfID],
    yDomain: [-100, 60], yTicks: Y_TICKS_INF,
    cell: [625, 436, 1166, 821], plot: [672, 503, 1164, 768], legendY: [455, 478],
    notes: [
      { text: "apertura →", x: 3.9, y: 40.7, angle: -3 },
      { text: "← cierre", x: 41.9, y: -78.1, angle: -5 }
    ]
  }
];

function drawTable() {
  const cols = [6, 66, 624, 1167];
  const rows = [7, 43, 435, 822];
  svg.append("g").selectAll("line").data(cols).join("line")
    .attr("class", "rule")
    .attr("x1", (d) => d).attr("x2", (d) => d)
    .attr("y1", rows[0] - 1).attr("y2", rows[3] + 1);
  svg.append("g").selectAll("line").data(rows).join("line")
    .attr("class", "rule")
    .attr("x1", cols[0] - 1).attr("x2", cols[3] + 1)
    .attr("y1", (d) => d).attr("y2", (d) => d);

  svg.append("g").selectAll("text").data(COLUMN_TITLES).join("text")
    .attr("class", "cell-title")
    .attr("text-anchor", "middle")
    .attr("x", (d, i) => (cols[i + 1] + cols[i + 2]) / 2)
    .attr("y", (rows[0] + rows[1]) / 2)
    .attr("dy", "0.35em")
    .text((d) => d);

  svg.append("g").selectAll("text").data(ROW_TITLES).join("text")
    .attr("class", "cell-title")
    .attr("text-anchor", "middle")
    .attr("transform", (d, i) => `translate(${(cols[0] + cols[1]) / 2 + 1},${(rows[i + 1] + rows[i + 2]) / 2}) rotate(-90)`)
    .attr("dy", "0.35em")
    .text((d) => d);
}

function drawLegend(g, p) {
  const x0 = p.plot[0] + 104;
  SERIES_NAMES.forEach((name, i) => {
    const sx = x0 + (i % 2) * 136;
    const sy = p.legendY[Math.floor(i / 2)];
    g.append("line")
      .attr("class", "series-line")
      .attr("x1", sx).attr("x2", sx + 34)
      .attr("y1", sy).attr("y2", sy);
    g.append("path")
      .attr("class", "marker")
      .attr("d", markers[i].d)
      .attr("stroke", markers[i].stroke)
      .attr("transform", `translate(${sx + 17},${sy})`);
    g.append("text")
      .attr("class", "legend-text")
      .attr("x", sx + 38).attr("y", sy)
      .attr("dy", "0.35em")
      .text(name);
  });
}

function drawPanel(p) {
  const [cx0, cy0, cx1, cy1] = p.cell;
  const [left, top, right, bottom] = p.plot;

  svg.append("clipPath").attr("id", `clip-${p.id}`)
    .append("rect")
    .attr("x", cx0).attr("y", cy0)
    .attr("width", cx1 - cx0).attr("height", cy1 - cy0);

  const g = svg.append("g").attr("clip-path", `url(#clip-${p.id})`);

  const x = d3.scaleLinear().domain([-5, 55]).range([left, right]);
  const y = d3.scaleLinear().domain(p.yDomain).range([bottom, top]);

  g.append("g").attr("class", "grid")
    .attr("transform", `translate(${left},0)`)
    .call(d3.axisLeft(y).tickValues(p.yTicks).tickSize(-(right - left)).tickFormat(""));
  g.append("g").attr("class", "grid")
    .attr("transform", `translate(0,${bottom})`)
    .call(d3.axisBottom(x).tickValues(X_TICKS).tickSize(-(bottom - top)).tickFormat(""));

  g.append("line").attr("class", "zero-line")
    .attr("x1", x(0)).attr("x2", x(0)).attr("y1", top).attr("y2", bottom);
  g.append("line").attr("class", "zero-line")
    .attr("x1", left).attr("x2", right).attr("y1", y(0)).attr("y2", y(0));

  g.append("g").attr("class", "axis")
    .attr("transform", `translate(${x(0)},0)`)
    .call(d3.axisLeft(y).tickValues(p.yTicks).tickSize(0).tickPadding(9).tickFormat((d) => String(d)))
    .call((a) => a.select(".domain").remove());
  g.append("g").attr("class", "axis")
    .attr("transform", `translate(0,${bottom})`)
    .call(d3.axisBottom(x).tickValues(X_TICKS).tickSize(0).tickPadding(12).tickFormat((d) => String(d)))
    .call((a) => a.select(".domain").remove());

  g.append("text").attr("class", "axis-title")
    .attr("text-anchor", "middle")
    .attr("x", (left + right) / 2).attr("y", bottom + 34)
    .attr("dy", "0.35em")
    .text("Apertura [cm]");
  g.append("text").attr("class", "axis-title")
    .attr("text-anchor", "middle")
    .attr("transform", `translate(${left - 9},${(top + bottom) / 2}) rotate(-90)`)
    .attr("dy", "0.35em")
    .text("ε [μm/m]");

  const line = d3.line()
    .defined((d) => d !== null)
    .x((d) => x(d[0]))
    .y((d) => y(d[1]));

  p.series.forEach((points, i) => {
    g.append("path").attr("class", "series-line").attr("d", line(points));
    g.append("g").selectAll("path")
      .data(points.filter((d) => d !== null))
      .join("path")
      .attr("class", "marker")
      .attr("d", markers[i].d)
      .attr("stroke", markers[i].stroke)
      .attr("transform", (d) => `translate(${x(d[0])},${y(d[1])})`);
  });

  p.notes.forEach((n) => {
    const nx = x(n.x);
    const ny = y(n.y);
    g.append("text").attr("class", "note")
      .attr("x", nx).attr("y", ny)
      .attr("dy", "0.35em")
      .attr("transform", `rotate(${n.angle},${nx},${ny})`)
      .text(n.text);
  });

  drawLegend(g, p);
}

drawTable();
panels.forEach(drawPanel);
</script>
</body>
</html>
